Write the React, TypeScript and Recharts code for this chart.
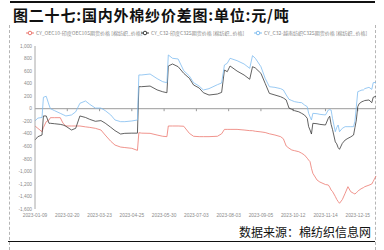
import { Line, LineChart, ReferenceLine, XAxis, YAxis } from 'recharts'

// trading-day index from 2023-01-09
const dayIdx = [
  0, 2, 5, 6, 8, 10, 11, 14, 18, 20, 22, 26, 29, 32, 36, 39, 43, 47, 50, 54, 57, 61, 64, 69, 73, 74, 76, 82, 87, 91,
  94, 95, 98, 102, 106, 110, 113, 117, 120, 124, 130, 133, 135, 137, 139, 144, 149, 153, 155, 157, 161, 164, 167,
  171, 175, 177, 179, 181, 183, 185, 188, 190, 192, 194, 195, 196, 197, 198, 201, 203, 207, 209, 210, 211, 212, 214,
  215, 216, 217, 219, 221, 223, 225, 227, 228, 229, 230, 231, 233, 234, 235, 238, 240, 241, 243,
]

const oec10India = [
  -276, -313, -367, -300, -207, -180, -143, -143, -143, -233, -276, -276, -276, -276, -290, -298, -313, -340, -420,
  -520, -580, -612, -620, -632, -665, -383, -390, -393, -420, -440, -446, -276, -276, -276, -280, -393, -440, -446,
  -446, -446, -440, -400, -330, -330, -330, -330, -340, -350, -351, -360, -370, -380, -400, -420, -446, -480, -595,
  -630, -659, -670, -686, -710, -738, -790, -820, -845, -950, -1031, -1138, -1170, -1210, -1217, -1250, -1297, -1320,
  -1400, -1446, -1480, -1509, -1450, -1350, -1244, -1324, -1350, -1361, -1340, -1320, -1297, -1270, -1260, -1244,
  -1220, -1201, -1160, -1073,
]

const c32India = [
  -500, -447, -420, -116, -116, -233, -233, -240, -250, -260, -280, -340, -313, -116, -140, -170, -201, -190, -230,
  -297, -350, -404, -393, -390, -390, 351, 351, 361, 300, 270, 255, 681, 713, 670, 564, 485, 378, 330, 255, 218, 234,
  260, 617, 590, 681, 600, 537, 469, 670, 650, 564, 405, 245, 218, 191, 170, 140, 10, -10, -32, -50, -74, -100, -153,
  -287, -340, -404, -233, -240, -250, -260, -153, -120, -250, -330, -530, -560, -620, -648, -553, -500, -473, -450,
  -420, -300, -180, 32, 80, 112, 120, 130, 139, 96, 181, 200,
]

const c32Vietnam = [
  -196, -150, -140, 182, 198, 59, 0, -32, -74, -95, -116, -100, -50, 86, 123, 70, 10, 10, -30, -100, -180, -207, -207,
  -196, -180, 538, 538, 553, 480, 431, 415, 857, 804, 793, 606, 521, 415, 360, 298, 320, 383, 410, 697, 724, 804, 766,
  713, 644, 846, 804, 670, 485, 351, 340, 320, 298, 220, 150, 130, 112, 100, 96, 60, 32, -74, -130, -180, -74, -80,
  -90, -100, -21, -15, -21, -153, -367, -300, -260, -367, -313, -287, -287, -287, -287, -200, 32, 271, 280, 298, 298,
  320, 341, 308, 415, 420,
]

const tickDays = [0, 23, 46, 69, 92, 115, 138, 161, 184, 207, 230]
const tickDates = [
  '2023-01-09', '2023-02-20', '2023-03-23', '2023-04-25', '2023-05-30', '2023-07-03',
  '2023-08-03', '2023-09-05', '2023-10-12', '2023-11-14', '2023-12-15',
]
const yTicks = [1000, 800, 600, 400, 200, 0, -200, -400, -600, -800, -1000, -1200, -1400, -1600]

const seriesNames = [
  'CY_OEC10-印度OEC10S期货价格 [棉纺织_价格]',
  'CY_C32-印度C32S期货价格 [棉纺织_价格]',
  'CY_C32-越南纺织C32S期货价格 [棉纺织_价格]',
]
const seriesKeys = ['a', 'b', 'c']
const seriesColors = ['#ec7870', '#3a3a3a', '#80bdf0']
const legendLeft = [26, 141, 254]

const rows = dayIdx.map((t, i) => ({ t, a: oec10India[i], b: c32India[i], c: c32Vietnam[i] }))

const axisText = { fontSize: 4.8, fill: '#8a8a8a', fontFamily: 'Arial, "Liberation Sans", sans-serif' }

function LegendRow() {
  return (
    <>
      {seriesNames.map((name, i) => (
        <div
          key={name}
          style={{
            position: 'absolute',
            left: legendLeft[i],
            top: 30,
            display: 'flex',
            alignItems: 'center',
            whiteSpace: 'nowrap',
          }}
        >
          <svg width={8} height={6} style={{ marginRight: 2 }}>
            <line x1={0} y1={3} x2={8} y2={3} stroke={seriesColors[i]} strokeWidth={1} />
            <circle cx={4} cy={3} r={1.8} fill="#fff" stroke={seriesColors[i]} strokeWidth={1} />
          </svg>
          <span style={{ fontSize: 5, color: '#8a8a8a', lineHeight: '6px' }}>{name}</span>
        </div>
      ))}
    </>
  )
}

export default function App() {
  return (
    <div
      style={{
        position: 'absolute',
        left: 0,
        top: 0,
        width: 384,
        height: 250,
        background: '#fff',
        overflow: 'hidden',
        fontFamily: '"Noto Sans CJK SC", sans-serif',
      }}
    >
      <div style={{ position: 'absolute', left: 10, top: 1, width: 365, height: 1.5, background: '#111' }} />
      <div style={{ position: 'absolute', left: 9, top: 25, height: 225, borderLeft: '1px dashed #b5b5b5' }} />
      <div style={{ position: 'absolute', left: 375, top: 25, height: 225, borderLeft: '1px dashed #b5b5b5' }} />
      <div
        style={{
          position: 'absolute',
          left: 13,
          top: 7,
          fontSize: 15,
          lineHeight: '16px',
          letterSpacing: 0.8,
          fontWeight: 700,
          color: '#111',
          whiteSpace: 'nowrap',
        }}
      >
        图二十七:国内外棉纱价差图:单位:元/吨
      </div>

      <LineChart
        width={384}
        height={250}
        data={rows}
        margin={{ top: 46, right: 8, bottom: 29, left: 0 }}
        style={{ position: 'absolute', left: 0, top: 0 }}
      >
        <XAxis
          type="number"
          dataKey="t"
          domain={[0, 243]}
          ticks={tickDays}
          tickFormatter={(v: number) => tickDates[tickDays.indexOf(v)] ?? ''}
          axisLine={false}
          tickLine={false}
          tickSize={0}
          tickMargin={5}
          height={12}
          tick={axisText}
          interval={0}
        />
        <YAxis
          type="number"
          domain={[-1600, 1000]}
          ticks={yTicks}
          tickFormatter={(v: number) => v.toLocaleString('en-US')}
          width={35}
          tickLine={false}
          tickSize={0}
          tickMargin={3}
          axisLine={{ stroke: '#a8a8a8' }}
          tick={axisText}
          interval={0}
        />
        <ReferenceLine y={0} stroke="#9a9a9a" strokeWidth={1} />
        {tickDays.slice(1).map((d) => (
          <ReferenceLine
            key={d}
            segment={[
              { x: d, y: 0 },
              { x: d, y: -40 },
            ]}
            stroke="#9a9a9a"
            strokeWidth={1}
          />
        ))}
        {seriesKeys.map((k, i) => (
          <Line
            key={k}
            dataKey={k}
            name={seriesNames[i]}
            stroke={seriesColors[i]}
            strokeWidth={0.8}
            dot={false}
            isAnimationActive={false}
          />
        ))}
      </LineChart>
      <LegendRow />

      <div style={{ position: 'absolute', left: 8, top: 240.5, width: 367, height: 1.5, background: '#111' }} />
      <div
        style={{
          position: 'absolute',
          left: 239,
          top: 225,
          fontSize: 12,
          lineHeight: '14px',
          color: '#111',
          whiteSpace: 'nowrap',
        }}
      >
        数据来源：棉纺织信息网
      </div>
    </div>
  )
}
